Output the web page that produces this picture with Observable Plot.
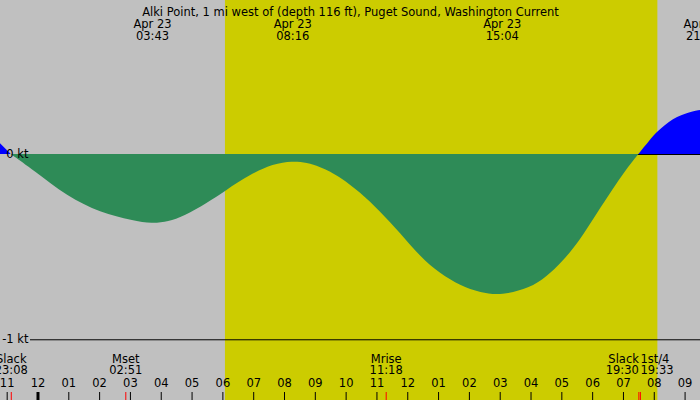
<!DOCTYPE html>
<html>
<head>
<meta charset="utf-8">
<script src="https://cdn.jsdelivr.net/npm/d3@7"></script>
<script src="https://cdn.jsdelivr.net/npm/@observablehq/plot@0.6"></script>
<style>
  html, body { margin: 0; padding: 0; background: #fff; }
  #chart svg { display: block; }
</style>
</head>
<body>
<div id="chart"></div>
<script>
// ---- data ----
const title = "Alki Point, 1 mi west of (depth 116 ft), Puget Sound, Washington Current";

const curveTimes = ["Apr 22 22:47","Apr 22 23:08","Apr 22 23:52","Apr 23 00:58","Apr 23 02:02","Apr 23 03:06","Apr 23 03:43","Apr 23 04:15","Apr 23 04:44","Apr 23 05:30","Apr 23 06:05","Apr 23 06:54","Apr 23 07:39","Apr 23 08:16","Apr 23 08:45","Apr 23 09:10","Apr 23 09:30","Apr 23 09:49","Apr 23 10:28","Apr 23 11:07","Apr 23 11:46","Apr 23 12:25","Apr 23 13:04","Apr 23 13:43","Apr 23 14:22","Apr 23 15:04","Apr 23 15:59","Apr 23 16:30","Apr 23 17:03","Apr 23 17:36","Apr 23 18:09","Apr 23 19:00","Apr 23 19:30","Apr 23 19:52","Apr 23 20:06","Apr 23 20:37","Apr 23 21:10","Apr 23 21:34"];
const curveSpeeds = [0.058,0,-0.086,-0.23,-0.316,-0.36,-0.376,-0.364,-0.337,-0.264,-0.199,-0.11,-0.053,-0.038,-0.047,-0.069,-0.094,-0.126,-0.205,-0.31,-0.425,-0.554,-0.646,-0.71,-0.748,-0.764,-0.722,-0.665,-0.578,-0.465,-0.32,-0.104,0,0.075,0.12,0.194,0.228,0.24];

const extremeTimes = ["Apr 23 03:43","Apr 23 08:16","Apr 23 15:04","Apr 23 21:34"];

const eventNames = ["Slack","Mset","Mrise","Slack","1st/4"];
const eventTimes = ["Apr 22 23:08","Apr 23 02:51","Apr 23 11:18","Apr 23 19:30","Apr 23 19:33"];

const daylight = ["Apr 23 06:05","Apr 23 20:07"];
const xRange = ["Apr 22 22:47","Apr 23 21:30"];
const yTickValues = [0, -1];
const yRange = [-1.3276, 0.8311];

// ---- build ----
const parse = d3.utcParse("%b %d %H:%M");
const fmtHM = d3.utcFormat("%H:%M");
const fmtDate = d3.utcFormat("%b %d");
const fmtHour = d3.utcFormat("%I");

const curve = curveTimes.map((t, i) => ({t: parse(t), v: curveSpeeds[i]}));
const neg = curve.filter(d => d.v <= 0);
const pos = curve.filter(d => d.v >= 0).map(d => ({...d, z: d.t <= neg[0].t ? "a" : "b"}));
const extremes = extremeTimes.map(parse);
const events = eventNames.map((n, i) => ({name: n, t: parse(eventTimes[i])}));
events.forEach((e, i) => {
  const prev = events[i - 1], next = events[i + 1];
  if (next && (next.t - e.t) < 3600e3) e.anchor = "end";
  else if (prev && (e.t - prev.t) < 3600e3) e.anchor = "start";
  else e.anchor = "middle";
});
const x0 = parse(xRange[0]), x1 = parse(xRange[1]);
const hours = d3.utcHour.range(d3.utcHour.ceil(x0), x1);
const midnights = hours.filter(h => h.getUTCHours() === 0);
const day = [{a: parse(daylight[0]), b: parse(daylight[1])}];

const eventMarks = ["start", "middle", "end"].flatMap(anchor => {
  const sub = events.filter(e => e.anchor === anchor);
  return [
    Plot.text(sub, {x: "t", text: "name", textAnchor: anchor, frameAnchor: "bottom", dy: -37.5}),
    Plot.text(sub, {x: "t", text: d => fmtHM(d.t), textAnchor: anchor, frameAnchor: "bottom", dy: -26.5})
  ];
});

const chart = Plot.plot({
  width: 700,
  height: 400,
  margin: 0,
  x: {type: "utc", domain: [x0, x1], axis: null},
  y: {domain: yRange, axis: null},
  style: {background: "#c0c0c0", fontFamily: "'DejaVu Sans', sans-serif", fontSize: "11.5px", color: "#000"},
  marks: [
    Plot.rectX(day, {x1: "a", x2: "b", fill: "#cccc00"}),
    Plot.areaY(pos, {x: "t", y: "v", z: "z", fill: "#0000ff", curve: "basis", clip: true}),
    Plot.ruleY(yTickValues, {stroke: "#000", insetLeft: 30}),
    Plot.areaY(neg, {x: "t", y: "v", fill: "#2e8b57", curve: "basis", clip: true}),
    Plot.text(yTickValues, {y: d => d, text: d => `${d} kt`, frameAnchor: "left", textAnchor: "end", dx: 28}),
    // top title and extreme labels
    Plot.text([title], {frameAnchor: "top", dy: 7.5, text: d => d}),
    Plot.text(extremes, {x: d => d, text: d => fmtDate(d), frameAnchor: "top", dy: 19.5}),
    Plot.text(extremes, {x: d => d, text: d => fmtHM(d), frameAnchor: "top", dy: 31.5}),
    // event labels
    ...eventMarks,
    // hour ticks
    Plot.text(hours, {x: d => d, text: d => fmtHour(d), frameAnchor: "bottom", dy: -14}),
    Plot.ruleX(hours, {x: d => d, stroke: "#000", insetTop: 392}),
    Plot.ruleX(midnights, {x: d => d, stroke: "#000", strokeWidth: 3, insetTop: 392}),
    Plot.ruleX(events, {x: "t", stroke: "#ff0000", insetTop: 392})
  ]
});
document.getElementById("chart").appendChild(chart);
</script>
</body>
</html>
